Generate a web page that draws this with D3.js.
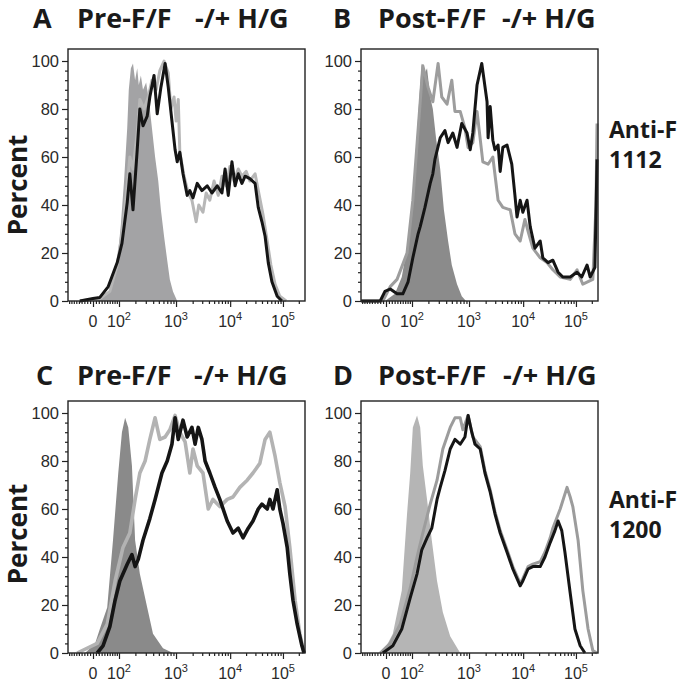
<!DOCTYPE html>
<html>
<head>
<meta charset="utf-8">
<script src="https://cdn.jsdelivr.net/npm/d3@7"></script>
<style>
  body { margin: 0; background: #fff; }
  svg { display: block; }
</style>
</head>
<body>
<div id="chart"></div>
<script>
// ── Data ─────────────────────────────────────────────────────────────────────
// x = display position in logicle "decades" (log10 at the top end, linear near 0)
// y = percent of mode
const aFill = [[1.14,0],[1.52,1],[1.66,3],[1.75,6],[1.85,16],[1.92,32],[1.98,50],[2.04,72],[2.07,88],
  [2.11,97],[2.15,99],[2.19,92],[2.23,97],[2.26,90],[2.30,94],[2.34,88],[2.40,91],[2.45,84],[2.51,72],
  [2.57,60],[2.63,50],[2.68,38],[2.74,27],[2.80,17],[2.85,9],[2.91,4],[2.99,0]];
const aGray = [[1.14,0],[1.52,1],[1.71,4],[1.85,15],[1.94,28],[2.04,48],[2.09,60],[2.15,55],[2.23,70],
  [2.28,84],[2.36,80],[2.44,85],[2.51,92],[2.59,88],[2.66,96],[2.74,100],[2.82,95],[2.87,80],[2.93,85],
  [2.97,75],[3.01,84],[3.04,62],[3.12,52],[3.20,45],[3.27,42],[3.35,33],[3.40,40],[3.48,37],[3.54,45],
  [3.61,42],[3.69,50],[3.77,44],[3.84,52],[3.92,48],[3.99,56],[4.07,50],[4.15,55],[4.22,52],[4.30,54],
  [4.37,50],[4.47,53],[4.54,45],[4.62,36],[4.70,25],[4.77,15],[4.85,7],[4.94,2],[5.06,0]];
const aBlack = [[1.14,0],[1.39,1],[1.52,1.5],[1.68,6],[1.85,16],[1.94,24],[2.04,41],[2.09,53],[2.15,38],
  [2.23,63],[2.28,80],[2.34,73],[2.42,77],[2.47,85],[2.55,94],[2.61,78],[2.68,89],[2.76,99],[2.82,89],
  [2.89,75],[2.95,63],[2.99,58],[3.04,62],[3.10,53],[3.18,44],[3.23,46],[3.29,43],[3.37,49],[3.46,46],
  [3.56,48],[3.65,45],[3.75,48],[3.84,45],[3.90,55],[3.96,44],[4.03,58],[4.09,48],[4.15,53],[4.22,49],
  [4.28,52],[4.37,51],[4.47,49],[4.53,39],[4.60,33],[4.66,27],[4.72,16],[4.79,8],[4.89,2],[4.98,0]];

const bFill = [[1.37,0],[1.56,3],[1.69,10],[1.81,25],[1.90,45],[1.98,70],[2.04,90],[2.07,99],[2.13,95],
  [2.17,97],[2.23,85],[2.28,80],[2.34,68],[2.42,55],[2.49,38],[2.57,25],[2.64,15],[2.74,7],[2.83,2],[2.91,0]];
const bGray = [[0.92,0],[1.33,0],[1.47,6],[1.60,9],[1.79,20],[1.90,42],[2.04,83],[2.09,98],[2.19,89],
  [2.28,83],[2.38,99],[2.45,85],[2.55,82],[2.64,92],[2.70,79],[2.80,79],[2.89,72],[2.95,64],[3.04,66],
  [3.12,79],[3.23,58],[3.33,57],[3.42,60],[3.52,42],[3.61,39],[3.75,38],[3.84,28],[3.94,25],[4.03,34],
  [4.09,29],[4.18,22],[4.32,18],[4.45,16],[4.56,13],[4.70,10],[4.89,9],[5.02,13],[5.13,7],[5.32,9],
  [5.38,40],[5.40,74]];
const bBlack = [[0.92,0],[1.28,0],[1.37,4],[1.47,5],[1.60,3],[1.71,3],[1.81,8],[1.90,18],[2.00,28],
  [2.04,31],[2.13,39],[2.23,49],[2.28,53],[2.32,59],[2.42,68],[2.51,71],[2.57,66],[2.66,70],[2.74,64],
  [2.83,74],[2.93,70],[2.99,63],[3.04,70],[3.12,90],[3.21,99],[3.31,83],[3.33,68],[3.37,81],[3.42,67],
  [3.46,63],[3.52,65],[3.56,54],[3.61,64],[3.69,65],[3.78,57],[3.84,44],[3.88,35],[3.94,42],[3.99,37],
  [4.07,42],[4.13,31],[4.22,22],[4.32,25],[4.37,18],[4.47,16],[4.56,17],[4.66,12],[4.75,10],[4.89,10],
  [5.02,12],[5.11,10],[5.21,15],[5.27,10],[5.36,14],[5.40,59]];

const cFill = [[1.24,0],[1.43,4],[1.52,10],[1.66,19],[1.77,47],[1.87,75],[1.94,92],[2.00,98],[2.06,94],
  [2.13,78],[2.19,47],[2.28,33],[2.42,19],[2.53,8],[2.72,2],[2.91,0]];
const cGray = [[1.09,0],[1.47,4],[1.66,12],[1.81,30],[1.96,44],[2.09,50],[2.19,64],[2.28,75],[2.38,80],
  [2.47,89],[2.57,98],[2.66,89],[2.76,90],[2.85,93],[2.95,99],[3.04,92],[3.14,88],[3.23,75],[3.29,85],
  [3.37,78],[3.48,75],[3.58,60],[3.67,64],[3.80,61],[3.94,64],[4.05,65],[4.18,69],[4.32,72],[4.43,75],
  [4.56,79],[4.66,89],[4.75,92],[4.85,82],[4.94,71],[5.04,61],[5.13,44],[5.23,22],[5.32,8],[5.40,0]];
const cBlack = [[1.47,0],[1.58,3],[1.71,11],[1.81,22],[1.90,30],[2.04,37],[2.13,41],[2.19,36],[2.25,39],
  [2.34,47],[2.47,56],[2.57,64],[2.70,75],[2.80,80],[2.89,87],[2.95,98],[3.01,89],[3.10,97],[3.18,90],
  [3.27,94],[3.33,87],[3.39,94],[3.46,89],[3.52,80],[3.61,75],[3.71,69],[3.80,64],[3.94,55],[4.05,50],
  [4.15,52],[4.24,48],[4.34,52],[4.43,55],[4.53,60],[4.60,62],[4.70,60],[4.75,64],[4.81,60],[4.89,68],
  [4.94,60],[5.00,54],[5.08,44],[5.13,33],[5.19,22],[5.27,12],[5.36,3],[5.40,0]];

const dFill = [[1.33,0],[1.52,8],[1.69,26],[1.79,58],[1.85,75],[1.90,94],[1.98,99],[2.04,94],[2.09,78],
  [2.17,64],[2.26,47],[2.36,30],[2.47,17],[2.61,7],[2.80,0]];
const dGray = [[1.28,0],[1.47,4],[1.66,12],[1.85,27],[1.98,40],[2.09,50],[2.23,62],[2.36,72],[2.47,85],
  [2.61,94],[2.70,98],[2.80,98],[2.85,93],[2.95,99],[3.04,90],[3.18,86],[3.27,76],[3.37,68],[3.46,59],
  [3.56,51],[3.69,43],[3.80,36],[3.94,29],[3.99,31],[4.09,36],[4.18,37],[4.32,38],[4.41,42],[4.51,48],
  [4.56,52],[4.70,60],[4.83,69],[4.89,65],[4.94,61],[5.04,47],[5.13,26],[5.23,10],[5.32,1],[5.40,0]];
const dBlack = [[1.33,0],[1.52,3],[1.69,10],[1.85,23],[1.98,33],[2.07,43],[2.17,48],[2.26,52],[2.36,64],
  [2.42,69],[2.51,76],[2.61,85],[2.70,89],[2.80,87],[2.89,90],[2.95,99],[3.02,92],[3.08,87],[3.18,85],
  [3.27,75],[3.37,67],[3.46,58],[3.56,50],[3.69,42],[3.80,35],[3.94,28],[3.99,30],[4.09,35],[4.18,36],
  [4.32,36],[4.41,40],[4.51,46],[4.60,51],[4.66,55],[4.73,51],[4.79,42],[4.89,25],[4.98,10],[5.08,3],[5.17,0]];

const yTicks = [0, 20, 40, 60, 80, 100];
const xMajor = [0, 1e2, 1e3, 1e4, 1e5];
const xMajorExp = [null, '2', '3', '4', '5'];   // null → plain "0"

// ── Logicle-style display transform ─────────────────────────────────────────
const LG_Z = 1.39, LG_P = 2.2;               // display position of zero, shape
const lgValue = u => Math.pow(10, LG_Z) *
  (Math.pow(10, u) - LG_P * LG_P * Math.pow(10, -u / LG_P) + LG_P * LG_P - 1);
function biex(v) {
  const a = Math.abs(v);
  let lo = 0, hi = 6;
  for (let i = 0; i < 60; i++) {
    const mid = (lo + hi) / 2;
    if (lgValue(mid) < a) lo = mid; else hi = mid;
  }
  return LG_Z + Math.sign(v) * lo;
}
const T_MIN = 0.915, T_MAX = biex(262144);

// ── Layout ───────────────────────────────────────────────────────────────────
const PW = 237, PH = 252;

const panels = [
  { left: 68,  top: 49,  fill: aFill, gray: aGray, black: aBlack, fillC: '#a3a3a5', grayC: '#b7b7b7',
    sw: 3,   title: ['A', 'Pre-F/F', '-/+ H/G'], tx: [33, 77, 195], ty: 28 },
  { left: 361, top: 49,  fill: bFill, gray: bGray, black: bBlack, fillC: '#8b8b8b', grayC: '#9d9d9d',
    sw: 3,   title: ['B', 'Post-F/F', '-/+ H/G'], tx: [333, 378, 502], ty: 28 },
  { left: 68,  top: 401, fill: cFill, gray: cGray, black: cBlack, fillC: '#8a8a8a', grayC: '#b3b3b3',
    sw: 3.6, title: ['C', 'Pre-F/F', '-/+ H/G'], tx: [36, 77, 194], ty: 385 },
  { left: 361, top: 401, fill: dFill, gray: dGray, black: dBlack, fillC: '#b5b5b5', grayC: '#9c9c9c',
    sw: 3,   title: ['D', 'Post-F/F', '-/+ H/G'], tx: [333, 378, 503], ty: 385 },
];

const BOLD = '"Open Sans", "Noto Sans", sans-serif';
const AXF  = '"Liberation Sans", Arial, sans-serif';

const svg = d3.select('#chart').append('svg')
  .attr('width', 680).attr('height', 689);

// minor x ticks: ±10..90, then 2..9 × each decade
const xMinor = [];
for (let k = 1; k <= 9; k++) { xMinor.push(-10 * k); xMinor.push(10 * k); }
[1e2, 1e3, 1e4].forEach(d => { for (let k = 2; k <= 9; k++) xMinor.push(k * d); });
xMinor.push(2e5);
const yMinor = d3.range(0, 101, 4).filter(v => v % 20 !== 0);

panels.forEach(p => {
  const g = svg.append('g').attr('transform', `translate(${p.left},${p.top})`);
  const x = d3.scaleLinear().domain([T_MIN, T_MAX]).range([0, PW]);
  const y = d3.scaleLinear().domain([0, 100]).range([PH, 12]);

  const area = d3.area().x(d => x(d[0])).y0(y(0)).y1(d => y(d[1]));
  const line = d3.line().x(d => x(d[0])).y(d => y(d[1]));

  g.append('path').attr('d', area(p.fill)).attr('fill', p.fillC);
  g.append('path').attr('d', line(p.gray)).attr('fill', 'none')
    .attr('stroke', p.grayC).attr('stroke-width', p.sw).attr('stroke-linejoin', 'round');
  g.append('path').attr('d', line(p.black)).attr('fill', 'none')
    .attr('stroke', '#151515').attr('stroke-width', p.sw).attr('stroke-linejoin', 'round');

  // frame
  g.append('rect').attr('width', PW).attr('height', PH)
    .attr('fill', 'none').attr('stroke', '#222').attr('stroke-width', 1.4);

  const style = s => {
    s.select('.domain').remove();
    s.selectAll('.tick line').attr('stroke', '#222').attr('stroke-width', 1.2);
  };

  // x axis
  g.append('g').attr('transform', `translate(0,${PH})`)
    .call(d3.axisBottom(x).tickValues(xMinor.map(biex)).tickSize(3).tickFormat('')).call(style);
  g.append('g').attr('transform', `translate(0,${PH})`)
    .call(d3.axisBottom(x).tickValues(xMajor.map(biex)).tickSize(6).tickFormat('')).call(style);

  xMajor.forEach((v, i) => {
    const t = g.append('text')
      .attr('x', x(biex(v))).attr('y', PH + 26)
      .attr('text-anchor', 'middle').attr('font-family', AXF)
      .attr('font-size', 16).attr('fill', '#2a2a2a');
    if (xMajorExp[i] === null) t.text('0');
    else {
      t.append('tspan').text('10');
      t.append('tspan').attr('dy', -7).attr('font-size', 11).text(xMajorExp[i]);
    }
  });

  // y axis
  g.append('g')
    .call(d3.axisLeft(y).tickValues(yMinor).tickSize(3).tickFormat('')).call(style);
  g.append('g')
    .call(d3.axisLeft(y).tickValues(yTicks).tickSize(6).tickPadding(3)).call(style)
    .call(s => s.selectAll('.tick text')
      .attr('font-family', AXF).attr('font-size', 16.5).attr('fill', '#2a2a2a'));

  // title
  p.title.forEach((s, i) => {
    svg.append('text').attr('x', p.tx[i]).attr('y', p.ty)
      .attr('font-family', BOLD).attr('font-weight', 700).attr('font-size', 27)
      .attr('fill', '#1a1a1a').text(s);
  });
});

// y labels
[185, 534].forEach(cy => {
  svg.append('text')
    .attr('transform', `translate(27,${cy}) rotate(-90)`)
    .attr('text-anchor', 'middle').attr('font-family', BOLD).attr('font-weight', 700)
    .attr('font-size', 26).attr('fill', '#1a1a1a').text('Percent');
});

// row labels
[['Anti-F', '1112', 138], ['Anti-F', '1200', 508]].forEach(([a, b, by]) => {
  svg.append('text').attr('x', 609).attr('y', by)
    .attr('font-family', BOLD).attr('font-weight', 700).attr('font-size', 23)
    .attr('fill', '#1a1a1a').text(a);
  svg.append('text').attr('x', 609).attr('y', by + 30)
    .attr('font-family', BOLD).attr('font-weight', 700).attr('font-size', 23)
    .attr('fill', '#1a1a1a').text(b);
});
</script>
</body>
</html>
